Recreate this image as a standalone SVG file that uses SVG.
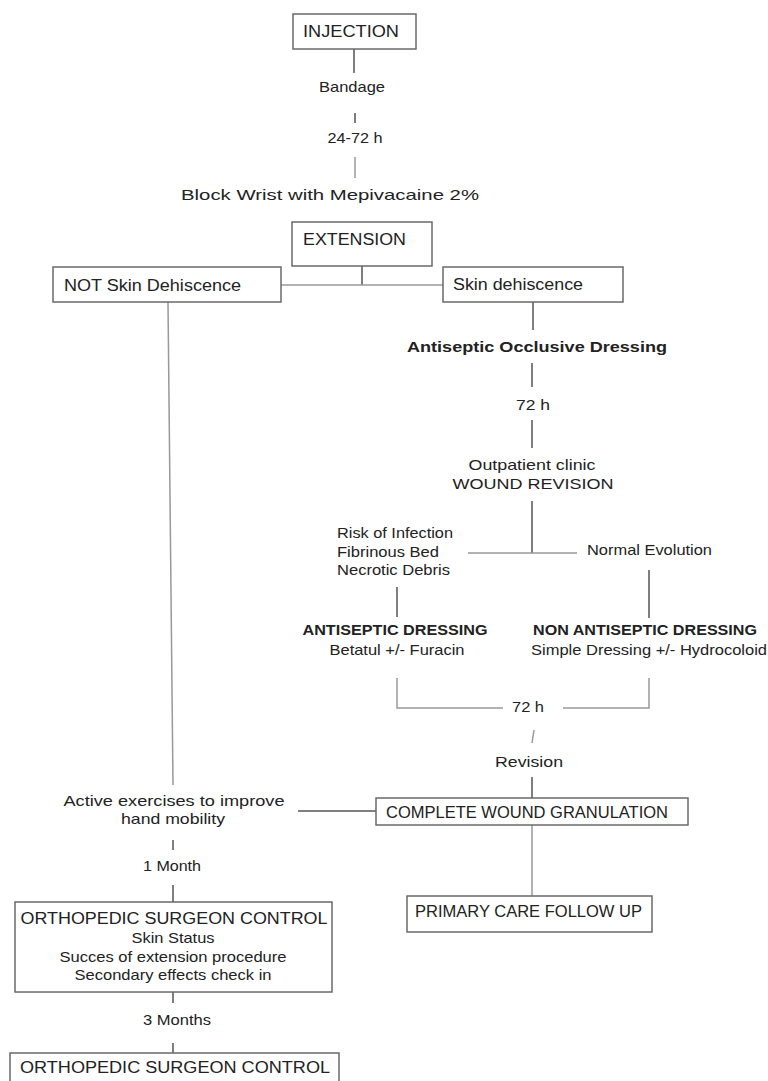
<svg xmlns="http://www.w3.org/2000/svg" width="768" height="1081" viewBox="0 0 768 1081">
<style>
.box{fill:#fff;stroke:#6a6a6a;stroke-width:1.5}
.ln{stroke:#555;stroke-width:1.5;fill:none}
.lg{stroke:#999;stroke-width:1.5;fill:none}
text{font-family:"Liberation Sans",Arial,sans-serif;fill:#222;font-size:15px}
.bx{font-size:16px}
.b{font-weight:bold;font-size:15px}
.m{text-anchor:middle}
</style>
<rect width="768" height="1081" fill="#fff"/>
<g id="connectors">
<line class="ln" x1="354" y1="49" x2="354" y2="73"/>
<line class="ln" x1="355" y1="113" x2="355" y2="123"/>
<line class="lg" x1="355" y1="157" x2="355" y2="178"/>
<line class="ln" x1="362" y1="266" x2="362" y2="285"/>
<line class="lg" x1="281" y1="285" x2="443" y2="285"/>
<line class="ln" x1="533" y1="302" x2="533" y2="330"/>
<line class="ln" x1="532" y1="363" x2="532" y2="387"/>
<line class="ln" x1="532" y1="420" x2="532" y2="448"/>
<line class="ln" x1="532" y1="501" x2="532" y2="553"/>
<line class="lg" x1="468" y1="553" x2="577" y2="553"/>
<line class="ln" x1="397" y1="587" x2="397" y2="617"/>
<line class="ln" x1="649" y1="570" x2="649" y2="618"/>
<path class="lg" d="M397,678 V708 H503"/>
<path class="lg" d="M563,708 H649 V678"/>
<line class="lg" x1="534" y1="730" x2="532" y2="743"/>
<line class="ln" x1="532" y1="777" x2="532" y2="798"/>
<line class="lg" x1="532" y1="825" x2="532" y2="896"/>
<line class="lg" x1="168" y1="302" x2="173" y2="785"/>
<line class="ln" x1="298" y1="811" x2="376" y2="811"/>
<line class="ln" x1="173" y1="840" x2="173" y2="850"/>
<line class="ln" x1="173" y1="885" x2="173" y2="902"/>
<line class="ln" x1="173" y1="992" x2="173" y2="1003"/>
<line class="ln" x1="173" y1="1043" x2="173" y2="1053"/>
</g>
<g id="injection">
<rect class="box" x="293" y="14" width="123" height="35"/>
<text class="bx" x="303" y="37" textLength="96" lengthAdjust="spacingAndGlyphs">INJECTION</text>
</g>
<g id="bandage"><text class="m" x="352" y="92" textLength="66" lengthAdjust="spacingAndGlyphs">Bandage</text></g>
<g id="t24-72"><text class="m" x="355" y="143" textLength="55" lengthAdjust="spacingAndGlyphs">24-72 h</text></g>
<g id="block"><text class="m" x="330" y="200" textLength="298" lengthAdjust="spacingAndGlyphs">Block Wrist with Mepivacaine 2%</text></g>
<g id="extension">
<rect class="box" x="292" y="222" width="140" height="44"/>
<text class="bx" x="303" y="245" textLength="103" lengthAdjust="spacingAndGlyphs">EXTENSION</text>
</g>
<g id="not-skin">
<rect class="box" x="53" y="267" width="228" height="35"/>
<text class="bx" x="64" y="291" textLength="177" lengthAdjust="spacingAndGlyphs">NOT Skin Dehiscence</text>
</g>
<g id="skin">
<rect class="box" x="443" y="267" width="180" height="35"/>
<text class="bx" x="453" y="290" textLength="130" lengthAdjust="spacingAndGlyphs">Skin dehiscence</text>
</g>
<g id="occlusive"><text class="b m" x="537" y="352" textLength="260" lengthAdjust="spacingAndGlyphs">Antiseptic Occlusive Dressing</text></g>
<g id="t72a"><text class="m" x="533" y="410" textLength="34" lengthAdjust="spacingAndGlyphs">72 h</text></g>
<g id="revision-clinic">
<text class="m" x="532" y="470" textLength="127" lengthAdjust="spacingAndGlyphs">Outpatient clinic</text>
<text class="m" x="533" y="489" textLength="161" lengthAdjust="spacingAndGlyphs">WOUND REVISION</text>
</g>
<g id="risk">
<text x="337" y="538" textLength="116" lengthAdjust="spacingAndGlyphs">Risk of Infection</text>
<text x="337" y="557" textLength="102" lengthAdjust="spacingAndGlyphs">Fibrinous Bed</text>
<text x="337" y="575" textLength="113" lengthAdjust="spacingAndGlyphs">Necrotic Debris</text>
</g>
<g id="normal"><text x="587" y="555" textLength="125" lengthAdjust="spacingAndGlyphs">Normal Evolution</text></g>
<g id="antiseptic">
<text class="b m" x="395" y="635" textLength="185" lengthAdjust="spacingAndGlyphs">ANTISEPTIC DRESSING</text>
<text class="m" x="397" y="655" textLength="135" lengthAdjust="spacingAndGlyphs">Betatul +/- Furacin</text>
</g>
<g id="non-antiseptic">
<text class="b m" x="645" y="635" textLength="224" lengthAdjust="spacingAndGlyphs">NON ANTISEPTIC DRESSING</text>
<text class="m" x="649" y="655" textLength="236" lengthAdjust="spacingAndGlyphs">Simple Dressing +/- Hydrocoloid</text>
</g>
<g id="t72b"><text class="m" x="528" y="712" textLength="32" lengthAdjust="spacingAndGlyphs">72 h</text></g>
<g id="revision"><text class="m" x="529" y="767" textLength="68" lengthAdjust="spacingAndGlyphs">Revision</text></g>
<g id="granulation">
<rect class="box" x="376" y="798" width="312" height="27"/>
<text class="bx" x="386" y="818" textLength="282" lengthAdjust="spacingAndGlyphs">COMPLETE WOUND GRANULATION</text>
</g>
<g id="primary">
<rect class="box" x="407" y="896" width="245" height="36"/>
<text class="bx" x="415" y="917" textLength="227" lengthAdjust="spacingAndGlyphs">PRIMARY CARE FOLLOW UP</text>
</g>
<g id="exercises">
<text class="m" x="174" y="806" textLength="221" lengthAdjust="spacingAndGlyphs">Active exercises to improve</text>
<text class="m" x="173" y="824" textLength="104" lengthAdjust="spacingAndGlyphs">hand mobility</text>
</g>
<g id="month1"><text class="m" x="172" y="871" textLength="58" lengthAdjust="spacingAndGlyphs">1 Month</text></g>
<g id="ortho1">
<rect class="box" x="15" y="902" width="317" height="90"/>
<text class="bx m" x="174" y="924" textLength="307" lengthAdjust="spacingAndGlyphs">ORTHOPEDIC SURGEON CONTROL</text>
<text class="m" x="173" y="943" textLength="83" lengthAdjust="spacingAndGlyphs">Skin Status</text>
<text class="m" x="173" y="962" textLength="227" lengthAdjust="spacingAndGlyphs">Succes of extension procedure</text>
<text class="m" x="173" y="980" textLength="197" lengthAdjust="spacingAndGlyphs">Secondary effects check in</text>
</g>
<g id="months3"><text class="m" x="177" y="1025" textLength="68" lengthAdjust="spacingAndGlyphs">3 Months</text></g>
<g id="ortho2">
<rect class="box" x="10" y="1053" width="329" height="40"/>
<text class="bx m" x="175" y="1073" textLength="310" lengthAdjust="spacingAndGlyphs">ORTHOPEDIC SURGEON CONTROL</text>
</g>
</svg>
